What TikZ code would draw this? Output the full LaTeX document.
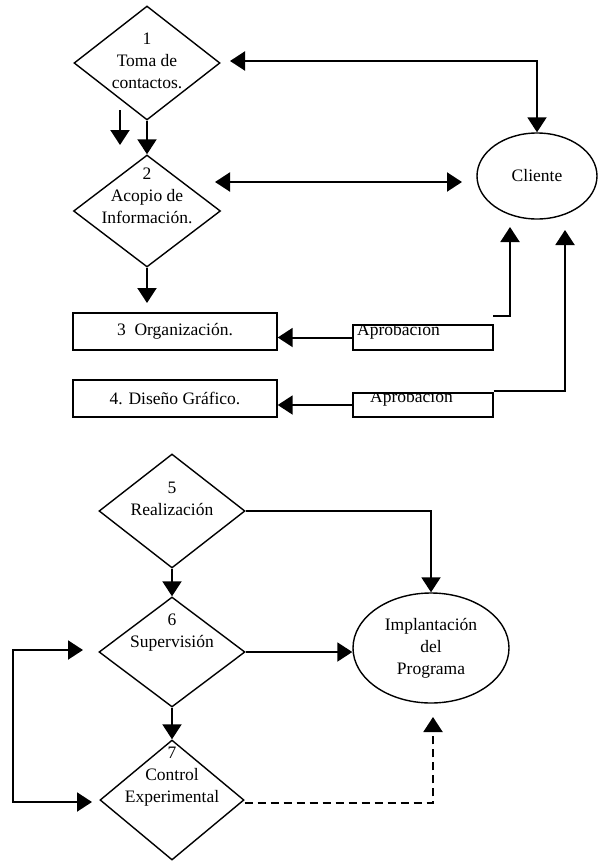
\documentclass[tikz,border=0pt]{standalone}
\usepackage{fontspec}
\setmainfont{Liberation Serif}
\usetikzlibrary{shapes.geometric,arrows.meta}
\begin{document}
\begin{tikzpicture}[x=1pt,y=-1pt,
  every node/.style={font=\fontsize{17.5}{22}\selectfont},
  stepdia/.style={draw,diamond,line width=1.4pt,minimum width=146pt,minimum height=114pt,inner sep=0pt},
  stepbox/.style={draw,rectangle,line width=1.4pt,minimum width=204pt,minimum height=37pt,inner sep=0pt},
  okbox/.style={draw,rectangle,line width=1.4pt,minimum width=140pt,minimum height=25pt,inner sep=0pt},
  actor/.style={draw,ellipse,line width=1.4pt,inner sep=0pt,align=center},
  lbl/.style={align=center,inner sep=0pt},
  tip/.tip={Triangle[length=15pt,width=19pt]},
  link/.style={line width=2pt,-tip},
  link2/.style={line width=2pt,tip-tip},
]
\useasboundingbox (0,0) rectangle (597,862);

% ---- upper block: contact with the client ----
\node[stepdia] (d1) at (147,63) {};
\node[lbl] (d1t) at (147,61) {1\\Toma de\\contactos.};
\node[stepdia,minimum width=147pt,minimum height=112pt] (d2) at (147,211) {};
\node[lbl] (d2t) at (147,196) {2\\Acopio de\\Información.};
\node[actor,minimum width=120pt,minimum height=86pt] (cli) at (537,176) {Cliente};

\node[stepbox] (b3) at (175,331.5) {3~ Organización.};
\node[stepbox] (b4) at (175,398.5) {4. Diseño Gráfico.};
\node[okbox] (a1) at (423,337.5) {};
\node[okbox,minimum height=24pt] (a2) at (423,405) {};
\begin{scope}
  \clip (a1.south west) rectangle (a1.north east);
  \node[anchor=base west,inner sep=0pt] (a1t) at (357,335) {Aprobación};
\end{scope}
\begin{scope}
  \clip (a2.south west) rectangle (a2.north east);
  \node[anchor=base west,inner sep=0pt] (a2t) at (370,402) {Aprobación};
\end{scope}

% free ends of the connectors
\coordinate (c1) at (230,61);
\coordinate (c2) at (215,182);
\coordinate (c3) at (462,182);
\coordinate (c4) at (120,110);
\coordinate (c5) at (120,145);
\coordinate (c6) at (147,303);
\coordinate (c7) at (493,316);
\coordinate (c8) at (510,227);
\coordinate (c9) at (565,230);

\draw[link2] (c1) -| (cli.north);
\draw[link2] (c2) -- (c3);
\draw[link] (c4) -- (c5);
\draw[link] (d1.south) -- (d2.north);
\draw[link] (d2.south) -- (c6);
\draw[link] (a1.west) -- (b3.east |- a1.west);
\draw[link] (a2.west) -- (b4.east |- a2.west);
\draw[link] (c7) -| (c8);
\draw[link] ([yshift=1pt]a2.north east) -| (c9);

% ---- lower block: carrying out the programme ----
\node[stepdia] (d5) at (172,511) {};
\node[lbl] (d5t) at (172,499) {5\\Realización};
\node[stepdia,minimum height=110pt] (d6) at (172,652) {};
\node[lbl] (d6t) at (172,633) {6\\Supervisión};
\node[stepdia,minimum width=144pt,minimum height=120pt] (d7) at (172,800) {};
\node[lbl] (d7t) at (172,777) {7\\Control\\Experimental};
\node[actor,minimum width=156pt,minimum height=110pt] (impl) at (431,648) {Implantación\\del\\Programa};

\coordinate (c10) at (83,650);
\coordinate (c11) at (92,802);
\coordinate (lp) at (13,726);
\coordinate (c12) at (433,717);

\draw[link] (d5.east) -| (impl.north);
\draw[link] (d5.south) -- (d6.north);
\draw[link] (d6.east) -- (d6.east -| impl.west);
\draw[link] (d6.south) -- (d7.north);
\draw[link2] (c10) -| (lp) |- (c11);
\draw[link,dash pattern=on 8pt off 5pt] ([yshift=-3pt]d7.east) -| (c12);
\end{tikzpicture}
\end{document}
